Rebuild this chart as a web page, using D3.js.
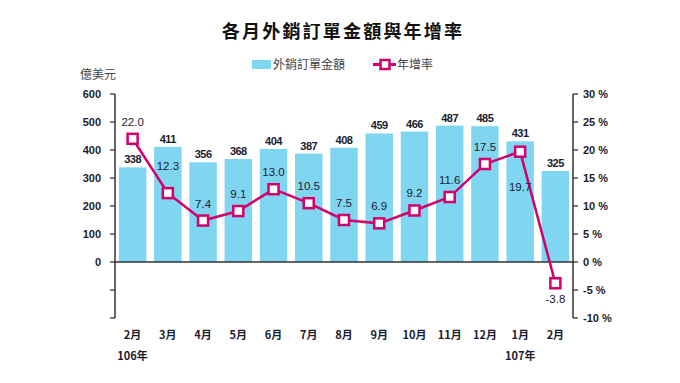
<!DOCTYPE html>
<html><head><meta charset="utf-8">
<script src="https://cdn.jsdelivr.net/npm/d3@7"></script>
<style>
body{margin:0;background:#fff;}
text{font-family:"Liberation Sans",Arial,sans-serif;}
.cjk{font-family:"Noto Sans CJK TC","Noto Sans CJK SC",sans-serif;}
</style></head>
<body><svg id="c" width="680" height="383"></svg>
<script>
const categories = ["2月","3月","4月","5月","6月","7月","8月","9月","10月","11月","12月","1月","2月"];
const yearLabels = ["106年","","","","","","","","","","","107年",""];
const orders = [338,411,356,368,404,387,408,459,466,487,485,431,325];
const growth = [22.0,12.3,7.4,9.1,13.0,10.5,7.5,6.9,9.2,11.6,17.5,19.7,-3.8];
const growthLabelSide = ["above","above","above","above","above","above","above","above","above","above","above","below","below"];
const leftTicks = [0,100,200,300,400,500,600];
const leftTickMarks = [-200,-100,0,100,200,300,400,500,600];
const rightTicks = [-10,-5,0,5,10,15,20,25,30];

(function(){
const svg = d3.select("#c");
const ml = 115, mr = 573, plotTop = 94, plotBottom = 318;
const x = d3.scaleBand().domain(d3.range(categories.length)).range([ml, mr]).paddingInner(0.22).paddingOuter(0.11);
const yL = d3.scaleLinear().domain([-200,600]).range([plotBottom, plotTop]);
const yR = d3.scaleLinear().domain([-10,30]).range([plotBottom, plotTop]);
const ink = "#1b1b2f";
const barColor = "#80d5f1";
const lineColor = "#d1006b";

// title
svg.append("text").attr("class","cjk").attr("x",343).attr("y",38).attr("text-anchor","middle")
  .attr("font-size",18).attr("font-weight",700).attr("letter-spacing",2.2).attr("fill","#111")
  .text("各月外銷訂單金額與年增率");

// legend
svg.append("rect").attr("x",252).attr("y",60).attr("width",19).attr("height",9).attr("fill",barColor);
svg.append("text").attr("class","cjk").attr("x",273).attr("y",69).attr("font-size",12).attr("fill","#444").text("外銷訂單金額");
svg.append("line").attr("x1",373).attr("x2",396).attr("y1",64.5).attr("y2",64.5).attr("stroke",lineColor).attr("stroke-width",3);
svg.append("rect").attr("x",380.5).attr("y",60).attr("width",9).attr("height",9).attr("fill","#fff").attr("stroke",lineColor).attr("stroke-width",2.5);
svg.append("text").attr("class","cjk").attr("x",397).attr("y",69).attr("font-size",12).attr("fill","#444").text("年增率");

// unit
svg.append("text").attr("class","cjk").attr("x",80).attr("y",79).attr("font-size",12).attr("fill","#444").text("億美元");

// bars
svg.selectAll(".bar").data(orders).enter().append("rect")
  .attr("x",(d,i)=>x(i)).attr("width",x.bandwidth())
  .attr("y",d=>yL(d)).attr("height",d=>yL(0)-yL(d)).attr("fill",barColor);

svg.selectAll(".bl").data(orders).enter().append("text")
  .attr("x",(d,i)=>x(i)+x.bandwidth()/2).attr("y",d=>yL(d)-4)
  .attr("text-anchor","middle").attr("font-size",11).attr("fill",ink).attr("font-weight",700)
  .attr("letter-spacing",-0.5).text(d=>d);

// zero line
svg.append("line").attr("x1",ml).attr("x2",mr).attr("y1",yL(0)).attr("y2",yL(0)).attr("stroke","#333").attr("stroke-width",1.3);

// left axis
const gL = svg.append("g").attr("transform",`translate(${ml},0)`);
gL.append("line").attr("x1",0).attr("x2",0).attr("y1",yL(600)).attr("y2",yL(-200)).attr("stroke","#333").attr("stroke-width",1.5);
gL.selectAll(".t").data(leftTickMarks).enter().append("line")
  .attr("x1",-5).attr("x2",0).attr("y1",d=>yL(d)).attr("y2",d=>yL(d)).attr("stroke","#333").attr("stroke-width",1.3);
gL.selectAll(".tl").data(leftTicks).enter().append("text")
  .attr("x",-14).attr("y",d=>yL(d)+4).attr("text-anchor","end").attr("font-size",11).attr("font-weight",700).attr("fill",ink).text(d=>d);

// right axis
const gR = svg.append("g").attr("transform",`translate(${mr},0)`);
gR.append("line").attr("x1",0).attr("x2",0).attr("y1",yR(30)).attr("y2",yR(-10)).attr("stroke","#333").attr("stroke-width",1.5);
gR.selectAll(".t").data(rightTicks).enter().append("line")
  .attr("x1",0).attr("x2",5).attr("y1",d=>yR(d)).attr("y2",d=>yR(d)).attr("stroke","#333").attr("stroke-width",1.3);
gR.selectAll(".tl").data(rightTicks).enter().append("text")
  .attr("x",10).attr("y",d=>yR(d)+4).attr("font-size",11).attr("font-weight",700).attr("fill",ink).text(d=>d+" %");

// x labels
svg.selectAll(".xl").data(categories).enter().append("text").attr("class","cjk")
  .attr("x",(d,i)=>x(i)+x.bandwidth()/2).attr("y",339).attr("text-anchor","middle")
  .attr("font-size",11).attr("font-weight",700).attr("fill",ink).text(d=>d);
svg.selectAll(".yl").data(yearLabels).enter().append("text").attr("class","cjk")
  .attr("x",(d,i)=>x(i)+x.bandwidth()/2).attr("y",360).attr("text-anchor","middle")
  .attr("font-size",11).attr("font-weight",700).attr("fill",ink).text(d=>d);

// line
const cx = i => x(i)+x.bandwidth()/2;
svg.append("path").datum(growth)
  .attr("d", d3.line().x((d,i)=>cx(i)).y(d=>yR(d)))
  .attr("fill","none").attr("stroke",lineColor).attr("stroke-width",2.5);
svg.selectAll(".m").data(growth).enter().append("rect")
  .attr("x",(d,i)=>cx(i)-5).attr("y",d=>yR(d)-5).attr("width",10).attr("height",10)
  .attr("fill","#fff").attr("stroke",lineColor).attr("stroke-width",2.5);
// label gap: the second point's label sits higher to clear the steep segment
const gapAbove = i => (i === 1 ? 23 : 13);
svg.selectAll(".gl").data(growth).enter().append("text")
  .attr("x",(d,i)=>cx(i)).attr("y",(d,i)=> growthLabelSide[i]==="above" ? yR(d)-gapAbove(i) : (d<0 ? yR(d)+20 : yR(d)+39))
  .attr("text-anchor","middle").attr("font-size",11.5).attr("fill",ink)
  .text(d=>d.toFixed(1));
})();
</script></body></html>
